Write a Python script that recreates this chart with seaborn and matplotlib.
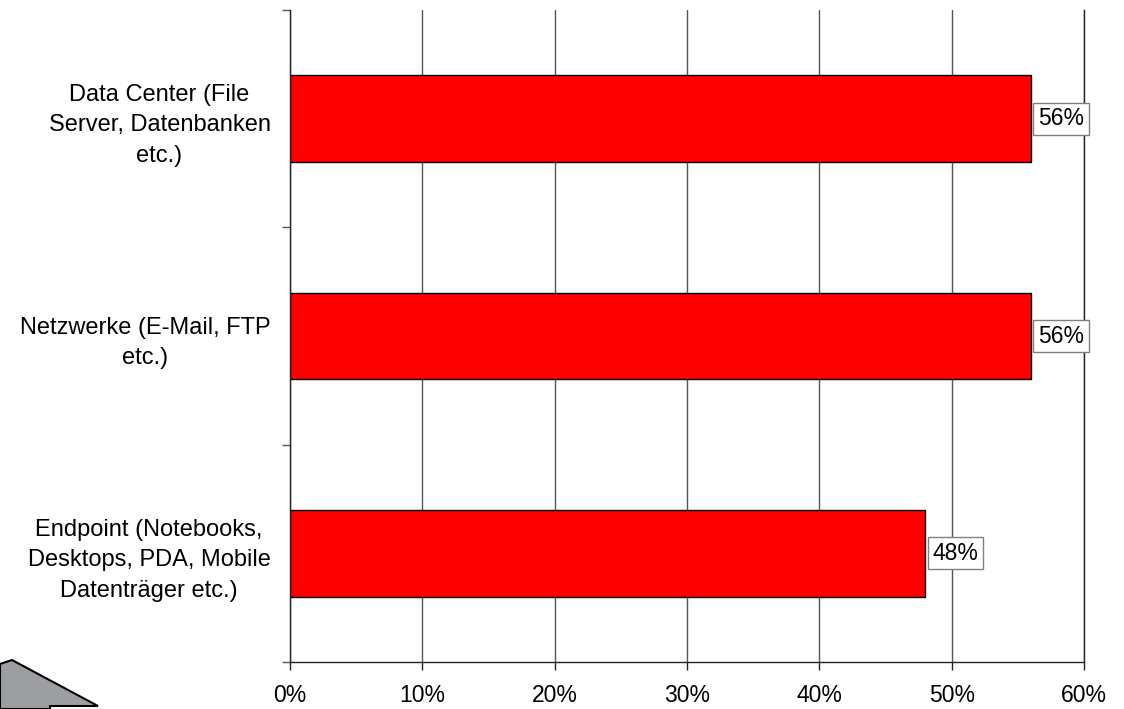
import numpy as np
import pandas as pd
import matplotlib
matplotlib.use("Agg")
import matplotlib.pyplot as plt
from matplotlib.patches import Polygon
import seaborn as sns

# Daten
kategorien = [
    "Data Center (File\nServer, Datenbanken\netc.)",
    "Netzwerke (E-Mail, FTP\netc.)",
    "Endpoint (Notebooks,\nDesktops, PDA, Mobile\nDatenträger etc.)",
]
werte = [56, 56, 48]
x_ticks = [0, 10, 20, 30, 40, 50, 60]

df = pd.DataFrame({"kategorie": kategorien, "wert": werte})

sns.set_style("white")
plt.rcParams["font.family"] = ["Liberation Sans", "DejaVu Sans"]
plt.rcParams["text.color"] = "black"
plt.rcParams["xtick.color"] = "black"
plt.rcParams["ytick.color"] = "black"
FS_Y = 17
FS = 16.5

fig = plt.figure(figsize=(11.24, 7.09), dpi=100)
ax = fig.add_axes([290 / 1124, 1 - 662 / 709, (1084 - 290) / 1124, (662 - 10) / 709])

sns.barplot(data=df, x="wert", y="kategorie", orient="h", color="#ff0000",
            saturation=1, width=0.4, edgecolor="black", linewidth=1, ax=ax)

ax.set_xlim(0, 60)
ax.set_ylim(2.5, -0.5)
ax.set_xlabel("")
ax.set_ylabel("")

# Gitterlinien
ax.set_xticks(x_ticks)
ax.set_xticklabels([f"{t}%" for t in x_ticks], fontsize=FS, color="black")
ax.xaxis.grid(True, color="#555555", linewidth=1)
ax.set_axisbelow(True)

# Kategorien-Achse
ax.set_yticks(range(len(kategorien)))
ax.set_yticklabels(kategorien, fontsize=FS_Y, color="black",
                   multialignment="center", linespacing=1.5)
ax.set_yticks([-0.5, 0.5, 1.5, 2.5], minor=True)
ax.tick_params(axis="y", which="major", length=0, pad=14)
ax.tick_params(axis="y", which="minor", length=6, width=1, color="#555555", direction="out", left=True)
ax.tick_params(axis="x", which="major", length=6, width=1, color="#222222", direction="out", bottom=True, pad=10)

for s in ["left", "bottom", "right"]:
    ax.spines[s].set_visible(True)
    ax.spines[s].set_color("#222222")
    ax.spines[s].set_linewidth(1)
ax.spines["top"].set_visible(False)

# Wertebeschriftungen
for i, v in enumerate(werte):
    ax.annotate(f"{v}%", xy=(v, i), xytext=(7, 0), textcoords="offset pixels",
                ha="left", va="center", fontsize=FS, color="black",
                bbox=dict(boxstyle="square,pad=0.2", facecolor="white",
                          edgecolor="#808080", linewidth=1))

# grauer Pfeil unten links
pts = [(0, 664), (12, 660), (98, 706), (50, 706), (50, 709), (0, 709)]
pfeil = Polygon([(x / 1124, 1 - y / 709) for x, y in pts], closed=True,
                facecolor="#9c9ea2", edgecolor="black", linewidth=1.5,
                transform=fig.transFigure, clip_on=False)
fig.patches.append(pfeil)

fig.savefig("out.png", dpi=100)
